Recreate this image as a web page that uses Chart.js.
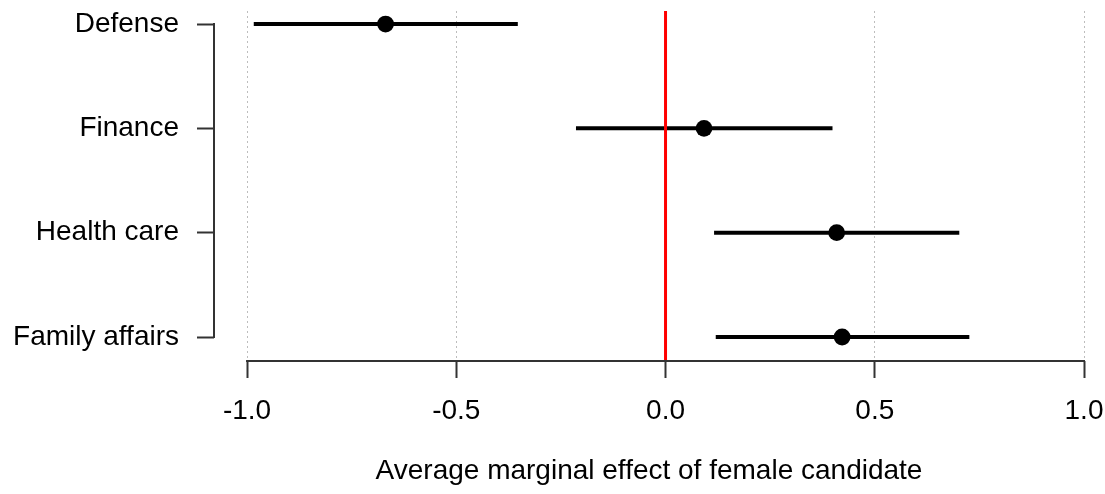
<!DOCTYPE html>
<html>
<head>
<meta charset="utf-8">
<title>Average marginal effect of female candidate</title>
<script src="https://cdn.jsdelivr.net/npm/chart.js@4.4.1/dist/chart.umd.min.js"></script>
<style>
  html, body { margin: 0; padding: 0; background: #fff; }
  #wrap { width: 1105px; height: 494px; }
</style>
</head>
<body>
<div id="wrap"><canvas id="amce" width="1105" height="494"></canvas></div>
<script>
// Policy areas, top to bottom
const categories = ['Defense', 'Finance', 'Health care', 'Family affairs'];
// Point estimates and interval bounds
const estimates = [-0.669, 0.092, 0.409, 0.422];
const lowerCI = [-0.984, -0.214, 0.116, 0.120];
const upperCI = [-0.353, 0.399, 0.702, 0.726];
// x axis
const xTicks = [-1, -0.5, 0, 0.5, 1];
const xTickLabels = ['-1.0', '-0.5', '0.0', '0.5', '1.0'];
const refLine = 0;
const xTitle = 'Average marginal effect of female candidate';

const FONT = "'Liberation Sans', Arial, Helvetica, sans-serif";
const FONT_SIZE = 28;
const AXIS_COLOR = '#333';

// axis lines only over the tick range (R style)
const axisLines = {
    id: 'axisLines',
    afterDraw(chart) {
        const { ctx, chartArea, scales: { x, y } } = chart;
        ctx.save();
        ctx.strokeStyle = AXIS_COLOR;
        ctx.lineWidth = 2;
        ctx.lineCap = 'square';
        ctx.beginPath();
        ctx.moveTo(x.getPixelForValue(xTicks[0]), chartArea.bottom);
        ctx.lineTo(x.getPixelForValue(xTicks[xTicks.length - 1]), chartArea.bottom);
        ctx.moveTo(chartArea.left, y.getPixelForValue(1));
        ctx.lineTo(chartArea.left, y.getPixelForValue(categories.length));
        ctx.stroke();
        ctx.restore();
    }
};

// red vertical reference line at zero
const zeroLine = {
    id: 'zeroLine',
    afterDatasetsDraw(chart) {
        const { ctx, chartArea, scales: { x } } = chart;
        const px = x.getPixelForValue(refLine);
        ctx.save();
        ctx.strokeStyle = '#ff0000';
        ctx.lineWidth = 3;
        ctx.beginPath();
        ctx.moveTo(px, chartArea.top);
        ctx.lineTo(px, chartArea.bottom);
        ctx.stroke();
        ctx.restore();
    }
};

const intervalSets = categories.map((c, i) => ({
    label: c,
    data: [{ x: lowerCI[i], y: i + 1 }, { x: upperCI[i], y: i + 1 }],
    showLine: true,
    borderColor: '#000',
    borderWidth: 4,
    borderCapStyle: 'butt',
    pointRadius: 0,
    pointHoverRadius: 0,
    order: 1
}));

const pointSet = {
    label: 'estimate',
    data: estimates.map((v, i) => ({ x: v, y: i + 1 })),
    backgroundColor: '#000',
    borderColor: '#000',
    borderWidth: 0,
    pointRadius: 8.4,
    pointHoverRadius: 8.4,
    order: 0
};

new Chart(document.getElementById('amce'), {
    type: 'scatter',
    data: { datasets: [pointSet, ...intervalSets] },
    plugins: [zeroLine, axisLines],
    options: {
        responsive: false,
        animation: false,
        layout: { padding: { left: 0, right: 21, top: 11, bottom: 0 } },
        plugins: {
            legend: { display: false },
            tooltip: { enabled: false }
        },
        scales: {
            x: {
                type: 'linear',
                min: -1.079,
                max: 1,
                afterBuildTicks: s => { s.ticks = xTicks.map(v => ({ value: v })); },
                afterFit: s => { s.height = 133; s.paddingLeft = 0; s.paddingRight = 0; },
                grid: {
                    color: '#bdbdbd',
                    lineWidth: 1,
                    tickColor: AXIS_COLOR,
                    tickWidth: 2,
                    tickLength: 17
                },
                border: { display: false, dash: [2, 3] },
                ticks: {
                    font: { family: FONT, size: FONT_SIZE },
                    color: '#000',
                    padding: 16,
                    maxRotation: 0,
                    autoSkip: false,
                    callback: (v, i) => xTickLabels[i]
                },
                title: {
                    display: true,
                    text: xTitle,
                    font: { family: FONT, size: FONT_SIZE, lineHeight: 1 },
                    color: '#000',
                    padding: { top: 0, bottom: 9 }
                }
            },
            y: {
                type: 'linear',
                reverse: true,
                min: 0.875,
                max: 4.23,
                afterBuildTicks: s => { s.ticks = categories.map((c, i) => ({ value: i + 1 })); },
                afterFit: s => { s.width = 214; s.paddingTop = 0; s.paddingBottom = 0; },
                grid: {
                    drawOnChartArea: false,
                    tickColor: AXIS_COLOR,
                    tickWidth: 2,
                    tickLength: 17
                },
                border: { display: false },
                ticks: {
                    font: { family: FONT, size: FONT_SIZE },
                    color: '#000',
                    padding: 18,
                    autoSkip: false,
                    callback: (v, i) => categories[i]
                }
            }
        }
    }
});
</script>
</body>
</html>
